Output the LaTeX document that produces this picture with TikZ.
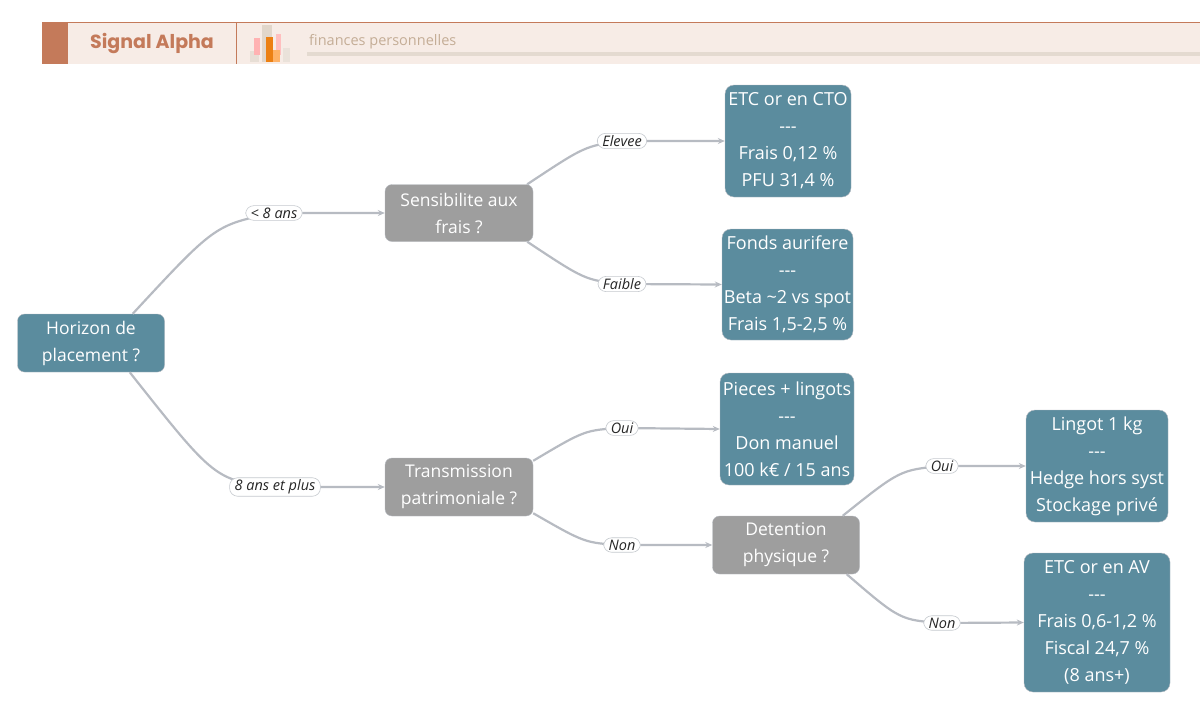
\documentclass[tikz,border=0pt]{standalone}
\usepackage{fontspec}
\setmainfont{Open Sans}
\newfontfamily\pop{Poppins}
\usetikzlibrary{arrows.meta,calc}
\definecolor{teal}{HTML}{5B8C9E}
\definecolor{grayb}{HTML}{9E9E9E}
\definecolor{edge}{HTML}{B7BBC2}
\definecolor{terra}{HTML}{C47A5A}
\definecolor{band}{HTML}{F7ECE6}
\definecolor{sub}{HTML}{C4AD96}
\tikzset{
 dec/.style={draw=edge,fill=grayb,rounded corners=7pt,text=white,align=center,font=\fontsize{17.5}{27}\selectfont,inner sep=0pt},
 leaf/.style={draw=edge,fill=teal,rounded corners=9pt,inner sep=0pt},
 lt/.style={text=white,align=center,font=\fontsize{18}{27}\selectfont},
 conn/.style={draw=edge,line width=2.2pt,-{Stealth[length=7pt,width=6pt]}},
 lab/.style={fill=white,draw=edge!80,line width=0.6pt,rounded corners=8pt,font=\fontsize{14.5}{16}\selectfont\itshape,inner xsep=5pt,inner ysep=2pt,text=black!85}
}
\newcommand{\leafbox}[6]{%
 \node[leaf,minimum width=#3pt,minimum height=#4pt] (#1) at (#2) {};
 \begin{scope}\clip[rounded corners=9pt] (#1.south west) rectangle (#1.north east);
 \node[lt] at ($(#1.center)+(0,#6)$) {#5};\end{scope}}
\newcommand{\dashes}{-{}-{}-}
\begin{document}
\begin{tikzpicture}[x=1pt,y=-1pt]
\useasboundingbox (0,0) rectangle (1200,721);
% header
\fill[band] (42,22) rectangle (1200,64);
\draw[terra,line width=0.8pt] (42,22) -- (1200,22);
\fill[terra] (42,22) rectangle (68,64);
\draw[terra,line width=0.8pt] (236,22) -- (236,64);
\node[text=terra,font=\pop\fontsize{19}{21}\selectfont\bfseries] (title) at (152,43) {Signal Alpha};
\fill[sub!40] (250,51) rectangle (259,62);
\fill[red!30] (254,38) rectangle (260,55);
\fill[sub!50] (262,25) rectangle (272,62);
\fill[orange!70!brown] (266,37) rectangle (273,62);
\fill[red!25] (276,34) rectangle (281,55);
\fill[orange!60] (273,50) rectangle (280,62);
\fill[sub!35] (283,48) rectangle (290,62);
\fill[sub!45] (307,52) rectangle (1200,56);
\node[anchor=west,text=sub,font=\fontsize{14.5}{16}\selectfont,inner sep=0pt] (subt) at (309,42) {finances personnelles};
% decision nodes
\node[dec,fill=teal,minimum width=147pt,minimum height=58pt] (h) at (91,343) {Horizon de\\placement ?};
\node[dec,minimum width=148pt,minimum height=57pt] (s) at (459,213) {Sensibilite aux\\frais ?};
\node[dec,minimum width=148pt,minimum height=58pt] (t) at (459,487) {Transmission\\patrimoniale ?};
\node[dec,minimum width=147pt,minimum height=58pt] (d) at (786,545) {Detention\\physique ?};
% leaves
\leafbox{l1}{788,141}{126}{112}{ETC or en CTO\\\dashes\\Frais 0,12 \%\\PFU 31,4 \%}{0}
\leafbox{l2}{787.5,284.5}{131}{111}{Fonds aurifere\\\dashes\\Beta \textasciitilde2 vs spot\\Frais 1,5-2,5 \%}{0}
\leafbox{l3}{787,429}{134}{112}{Pieces + lingots\\\dashes\\Don manuel\\100 k€ / 15 ans}{0}
\leafbox{l4}{1097,466}{142}{112}{Lingot 1 kg\\\dashes\\Hedge hors syst\\Stockage privé}{0}
\leafbox{l5}{1097,622.5}{146}{139}{ETC or en AV\\\dashes\\Frais 0,6-1,2 \%\\Fiscal 24,7 \%\\(8 ans+)}{0}
% connectors
\draw[conn] ($(h.north east)+(-32,0)$) .. controls (215,225) .. (274,213) -- (s.west);
\draw[conn] ($(h.south east)+(-35,0)$) .. controls (215,480) .. (275,487) -- (t.west);
\draw[conn] ($(s.north east)+(-6,0)$) .. controls (585,146) .. (622,141) -- (l1.west);
\draw[conn] ($(s.south east)+(-6,0)$) .. controls (585,280) .. (622,284) -- (l2.west);
\draw[conn] ($(t.north east)+(0,3)$) .. controls (585,430) .. (622,428) -- (l3.west);
\draw[conn] ($(t.south east)+(0,-3)$) .. controls (585,543) .. (622,545) -- (d.west);
\draw[conn] ($(d.north east)+(-17,0)$) .. controls (900,470) .. (942,466) -- (l4.west);
\draw[conn] ($(d.south east)+(-13,0)$) .. controls (900,620) .. (942,623) -- (l5.west);
% labels
\node[lab] (e1) at (274,213) {< 8 ans};
\node[lab] (e2) at (275,487) {8 ans et plus};
\node[lab] (e3) at (622,141) {Elevee};
\node[lab] (e4) at (622,284) {Faible};
\node[lab] (e5) at (622,428) {Oui};
\node[lab] (e6) at (622,545) {Non};
\node[lab] (e7) at (942,466) {Oui};
\node[lab] (e8) at (942,623) {Non};
\end{tikzpicture}
\end{document}
